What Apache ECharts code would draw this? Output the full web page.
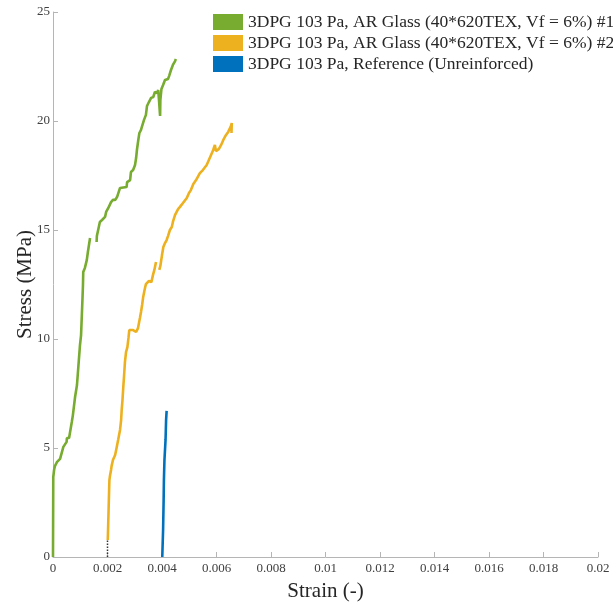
<!DOCTYPE html>
<html><head><meta charset="utf-8">
<script src="https://cdn.jsdelivr.net/npm/echarts@6/dist/echarts.min.js"></script>
<style>html,body{margin:0;padding:0;background:#fff}#c{width:613px;height:603px}</style>
</head><body><div id="c"></div>
<script>
const seriesNames = ['3DPG 103 Pa, AR Glass (40*620TEX, Vf = 6%) #1','3DPG 103 Pa, AR Glass (40*620TEX, Vf = 6%) #2','3DPG 103 Pa, Reference (Unreinforced)'];
const xTicks = [0,0.002,0.004,0.006,0.008,0.01,0.012,0.014,0.016,0.018,0.02];
const yTicks = [0,5,10,15,20,25];

const greenStrain = [0,0.00001,0.00004,0.00007,0.00015,0.00026,0.00033,0.00038,0.0005,0.00051,0.00059,0.00069,0.00073,0.00081,0.00088,0.00093,0.00099,0.00103,0.00108,0.0011,0.00111,0.00117,0.00124,0.00128,0.00132,0.00136,null,0.0016,0.00161,0.00172,0.0018,0.00191,0.00195,0.00203,0.00213,0.0022,0.00228,0.00235,0.00246,0.00253,0.0027,0.00272,0.00283,0.00286,0.00294,0.00301,0.00305,0.00308,0.00313,0.00317,0.00323,0.00327,0.00334,0.00341,0.00345,0.00352,0.0036,0.00368,0.00374,0.00382,0.00386,0.00389,0.00393,0.00394,0.00398,0.00404,0.00411,0.00422,0.00426,0.00433,0.0044,0.00448,0.00451];
const greenStress = [0,3.67,3.99,4.17,4.36,4.5,4.54,5.05,5.28,5.46,5.46,6.19,6.51,7.34,7.89,8.72,9.72,10.18,11.79,12.48,13.07,13.26,13.62,13.99,14.31,14.63,null,14.45,14.72,15.37,15.46,15.6,15.83,16.01,16.28,16.38,16.38,16.51,16.93,16.97,16.97,17.2,17.29,17.66,17.75,17.98,18.3,18.67,19.13,19.45,19.59,19.77,20.05,20.28,20.69,20.87,21.06,21.1,21.33,21.28,21.42,20.96,20.23,20.96,21.47,21.65,21.88,21.93,22.06,22.34,22.57,22.75,22.84];

const orangeStrain = [0.00201,0.00204,0.00207,0.00209,0.00213,0.00215,0.0022,0.00228,0.00234,0.00239,0.00246,0.0025,0.00252,0.00255,0.00258,0.00261,0.00264,0.00268,0.00273,0.00277,0.0028,0.00286,0.00294,0.00305,0.00312,0.00319,0.00323,0.00327,0.00331,0.00336,0.00341,0.00347,0.00352,0.00356,0.00361,0.00367,0.00372,0.00378,null,0.0039,0.00394,0.004,0.00405,0.00411,0.00417,0.00422,0.00429,0.00436,0.0044,0.00448,0.00454,0.00459,0.00466,0.00477,0.00491,0.00499,0.00506,0.00515,0.00525,0.00539,0.0055,0.00564,0.00572,0.0058,0.00588,0.00594,0.00598,0.00609,0.00617,0.00625,0.00635,0.00643,0.0065,0.00653,0.00656,0.00655];
const orangeStress = [0.78,2.16,3.53,3.72,3.99,4.17,4.45,4.68,5.05,5.37,5.83,6.28,6.74,7.2,7.8,8.35,8.94,9.4,9.63,10.05,10.41,10.37,10.41,10.32,10.5,10.96,11.24,11.56,11.93,12.25,12.52,12.48,12.66,12.71,12.61,12.94,13.17,13.53,null,13.17,13.35,13.85,14.22,14.4,14.54,14.72,15.0,15.14,15.37,15.69,15.78,15.96,16.06,16.24,16.47,16.7,16.83,17.11,17.29,17.61,17.75,17.98,18.21,18.44,18.67,18.9,18.62,18.72,18.9,19.13,19.36,19.5,19.59,19.77,19.91,19.45];

const blueStrain = [0.00401,0.00404,0.00406,0.00407,0.00409,0.00413,0.00415,0.00417];
const blueStress = [0,1.24,2.61,3.53,4.45,5.37,6.28,6.7];

const offsetStrain = [0.002,0.002];
const offsetStress = [0,0.78];

function pairs(xs, ys){ return xs.map((x,i)=> (x===null||ys[i]===null) ? ['-','-'] : [x, ys[i]]); }

const FONT = '"Liberation Serif", "DejaVu Serif", serif';
const chart = echarts.init(document.getElementById('c'));
const lineW = 2.6;
chart.setOption({
  animation:false,
  backgroundColor:'#fff',
  grid:{left:53,right:15,top:12,bottom:46,containLabel:false,outerBoundsMode:'none'},
  legend:{
    data:seriesNames, orient:'vertical', left:213, top:13, padding:0,
    itemWidth:30, itemHeight:16, itemGap:3, icon:'rect',
    textStyle:{fontFamily:FONT,fontSize:17.5,color:'#262626',padding:[0,0,0,0]}
  },
  xAxis:{
    type:'value', min:xTicks[0], max:xTicks[xTicks.length-1], interval:0.002,
    name:'Strain (-)', nameLocation:'middle', nameGap:24,
    nameTextStyle:{fontFamily:FONT,fontSize:21,color:'#262626'},
    axisLine:{lineStyle:{color:'#b5b5b5',width:1}},
    axisTick:{inside:true,length:5,lineStyle:{color:'#b5b5b5'}},
    axisLabel:{fontFamily:FONT,fontSize:13,color:'#404040',margin:5,
      formatter:v=>String(+v.toFixed(3))},
    splitLine:{show:false}
  },
  yAxis:{
    type:'value', min:yTicks[0], max:yTicks[yTicks.length-1], interval:5,
    name:'Stress (MPa)', nameLocation:'middle', nameGap:17, nameMoveOverlap:false,
    nameTextStyle:{fontFamily:FONT,fontSize:21,color:'#262626'},
    axisLine:{show:true,lineStyle:{color:'#b5b5b5',width:1}},
    axisTick:{show:true,inside:true,length:5,lineStyle:{color:'#b5b5b5'}},
    axisLabel:{fontFamily:FONT,fontSize:13,color:'#404040',margin:3},
    splitLine:{show:false}
  },
  series:[
    {name:seriesNames[0],type:'line',data:pairs(greenStrain,greenStress),showSymbol:false,color:'#77AC30',lineStyle:{width:lineW},connectNulls:false},
    {name:seriesNames[1],type:'line',data:pairs(orangeStrain,orangeStress),showSymbol:false,color:'#EDB120',lineStyle:{width:lineW},connectNulls:false},
    {name:seriesNames[2],type:'line',data:pairs(blueStrain,blueStress),showSymbol:false,color:'#0072BD',lineStyle:{width:lineW}},
    {name:'offset',type:'line',data:pairs(offsetStrain,offsetStress),showSymbol:false,color:'#333',lineStyle:{width:1.5,type:'dotted'}}
  ]
});
</script></body></html>
